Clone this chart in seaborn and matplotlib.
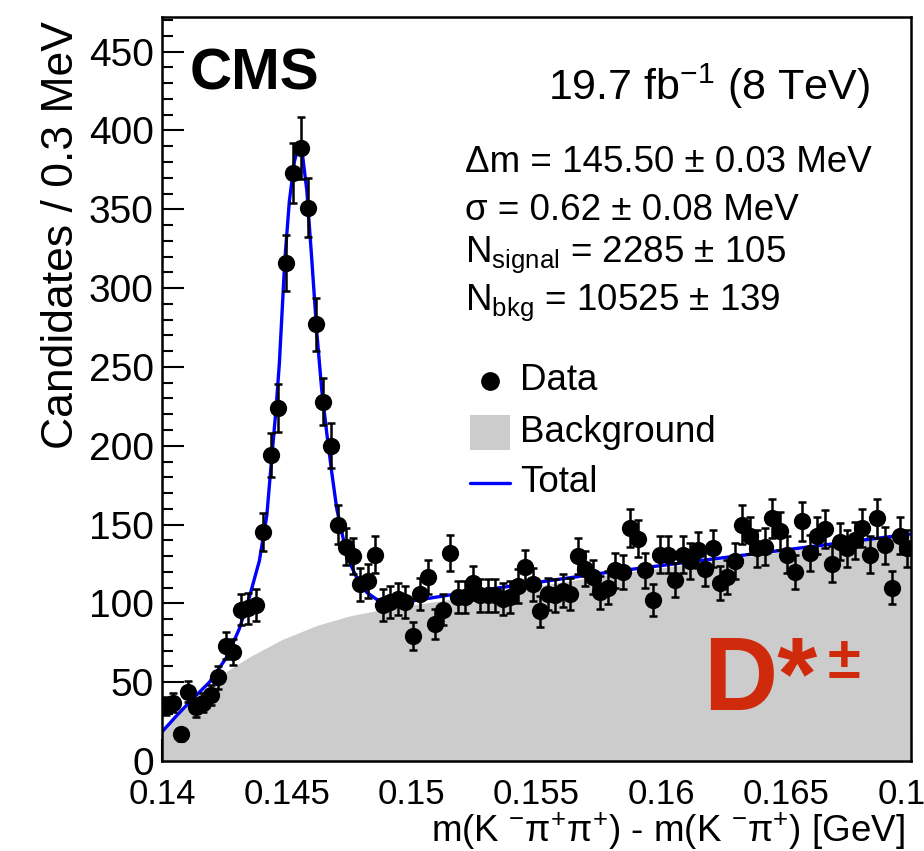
import numpy as np
import pandas as pd
import matplotlib
matplotlib.use("Agg")
import matplotlib.pyplot as plt
from matplotlib import font_manager
from matplotlib.lines import Line2D
from matplotlib.patches import Rectangle
import seaborn as sns

# ---------------- data ----------------
bin_width = 0.0003
x_min, x_max = 0.140, 0.170
counts = [35, 37, 17, 44, 34, 37, 42, 53, 73, 69,
          96, 97, 99, 145, 194, 224, 316, 373, 389, 351,
          277, 228, 200, 150, 136, 130, 112, 114, 131, 99,
          101, 103, 101, 79, 106, 117, 87, 96, 132, 104,
          104, 113, 105, 105, 105, 103, 104, 111, 123, 112,
          95, 106, 105, 108, 106, 130, 122, 117, 107, 110,
          121, 120, 148, 141, 121, 102, 131, 131, 115, 131,
          127, 134, 122, 135, 113, 117, 127, 150, 143, 135,
          136, 154, 146, 131, 120, 152, 132, 143, 147, 125,
          139, 135, 140, 148, 131, 154, 137, 110, 143, 135]

total_x = [0.1400, 0.1406, 0.1412, 0.1419, 0.1426, 0.1431, 0.1435, 0.1439,
           0.1442, 0.14435, 0.14456, 0.1447, 0.14492, 0.1451, 0.1453, 0.14545,
           0.1456, 0.1458, 0.1460, 0.1462, 0.1464, 0.1466, 0.1468, 0.1470,
           0.1473, 0.1476, 0.1479, 0.1482, 0.1486, 0.1490, 0.1495, 0.1500,
           0.1510, 0.1520, 0.1540, 0.1560, 0.1580, 0.1600, 0.1620, 0.1640,
           0.1660, 0.1680, 0.1700]
total_y = [18.5, 29, 39, 50, 66, 84, 104, 127,
           156, 184, 222, 252, 318, 355, 380, 390,
           388, 362, 318, 272, 235, 208, 183, 160,
           138, 123, 113, 107, 102.5, 100.5, 100.5, 101.5,
           104, 106.5, 111, 115.5, 120, 124, 128, 132,
           136, 140, 144]

bkg_x = [0.1400, 0.1405, 0.1410, 0.1415, 0.1420, 0.1426, 0.1435, 0.1448,
         0.1462, 0.1475, 0.1488, 0.1500, 0.1520, 0.1540, 0.1560, 0.1580,
         0.1600, 0.1620, 0.1640, 0.1660, 0.1680, 0.1700]
bkg_y = [18.5, 28, 36, 43, 49, 57, 66, 77,
         86, 92, 96, 99, 103.5, 108.5, 113.5, 118.5,
         122.5, 127, 131, 135, 139.5, 143.5]

x_ticks = [0.14, 0.145, 0.15, 0.155, 0.16, 0.165, 0.17]
x_tick_labels = ["0.14", "0.145", "0.15", "0.155", "0.16", "0.165", "0.17"]
y_ticks = [0, 50, 100, 150, 200, 250, 300, 350, 400, 450]

stats_lines = ["Δm = 145.50 ± 0.03 MeV",
               "σ = 0.62 ± 0.08 MeV",
               r"N$_{\mathrm{signal}}$ = 2285 ± 105",
               r"N$_{\mathrm{bkg}}$ = 10525 ± 139"]
legend_labels = ["Data", "Background", "Total"]

# ---------------- style ----------------
sns.set_theme(style="ticks")
avail = {f.name for f in font_manager.fontManager.ttflist}
main_font = "Liberation Sans" if "Liberation Sans" in avail else "DejaVu Sans"
narrow_font = "Liberation Sans Narrow" if "Liberation Sans Narrow" in avail else main_font
plt.rcParams["font.family"] = [main_font, "DejaVu Sans"]
plt.rcParams["mathtext.fontset"] = "custom"
plt.rcParams["mathtext.rm"] = main_font
plt.rcParams["mathtext.it"] = main_font + ":italic"
plt.rcParams["mathtext.bf"] = main_font + ":bold"
plt.rcParams["text.color"] = "black"
plt.rcParams["axes.labelcolor"] = "black"
plt.rcParams["xtick.color"] = "black"
plt.rcParams["ytick.color"] = "black"
plt.rcParams["axes.edgecolor"] = "black"

W, H = 924, 851
fig = plt.figure(figsize=(W / 100, H / 100), dpi=100)
fig.patch.set_facecolor("white")

def fx(px):
    return px / W

def fy(py):
    return 1 - py / H

ax = fig.add_axes([fx(162), fy(761), (911 - 162) / W, (761 - 17) / H])
ax.set_facecolor("white")

# data frame of bins
centers = x_min + bin_width / 2 + bin_width * np.arange(len(counts))
df = pd.DataFrame({"x": centers, "n": counts})
df["err"] = np.sqrt(df["n"])

# background fill
ax.fill_between(bkg_x, 0, bkg_y, color="#cccccc", linewidth=0, zorder=1)

# total line
sns.lineplot(x=total_x, y=total_y, ax=ax, color="#0000ff", linewidth=2.4,
             zorder=2, sort=False)

# error bars + points
ax.errorbar(df["x"], df["n"], yerr=df["err"], fmt="none", ecolor="black",
            elinewidth=1.8, capsize=3.2, capthick=1.8, zorder=3)
sns.scatterplot(data=df, x="x", y="n", ax=ax, color="black", s=155,
                edgecolor="black", linewidth=0, zorder=4)

# axes
ax.set_xlim(x_min, x_max)
ax.set_ylim(0, 472)
ax.set_xlabel("")
ax.set_ylabel("")
ax.set_xticks(x_ticks)
ax.set_xticklabels(x_tick_labels)
ax.set_yticks(y_ticks)
ax.set_xticks(np.arange(0.140, 0.1701, 0.001), minor=True)
ax.set_yticks(np.arange(0, 471, 10), minor=True)
ax.tick_params(axis="both", which="major", direction="in", length=16,
               width=1.5, color="black")
ax.tick_params(axis="both", which="minor", direction="in", length=8,
               width=1.5, color="black")
ax.tick_params(axis="x", which="both", top=False, bottom=True, pad=12)
ax.tick_params(axis="y", which="both", right=False, left=True, pad=6)
for lab in ax.get_xticklabels():
    lab.set_fontsize(25)
    lab.set_color("black")
    lab.set_family([narrow_font, "DejaVu Sans"])
for lab in ax.get_yticklabels():
    lab.set_fontsize(28)
    lab.set_color("black")
for sp in ax.spines.values():
    sp.set_visible(True)
    sp.set_linewidth(1.8)
    sp.set_color("black")
    sp.set_zorder(6)
ax.grid(False)

# axis titles
fig.text(fx(62), fy(235), "Candidates / 0.3 MeV", rotation=90, ha="center",
         va="center", fontsize=32, family=[narrow_font, "DejaVu Sans"])
fig.text(fx(905), fy(831), r"m(K $^{-}$π$^{+}$π$^{+}$) - m(K $^{-}$π$^{+}$) [GeV]",
         ha="right", va="center", fontsize=26.5, family=[narrow_font, "DejaVu Sans"])

# CMS and luminosity
fig.text(fx(190), fy(75), "CMS", ha="left", va="center", fontsize=42,
         fontweight="bold")
fig.text(fx(870), fy(100), r"19.7 fb$^{-1}$ (8 TeV)", ha="right",
         va="baseline", fontsize=31)

# fit results
for txt, base in zip(stats_lines, [172, 220, 262, 310]):
    fig.text(fx(465), fy(base), txt, ha="left", va="baseline", fontsize=26.5)

# legend (manual)
fig.add_artist(Line2D([fx(490)], [fy(381)], marker="o", color="black",
                      markersize=12.5, linestyle="none"))
fig.add_artist(Rectangle((fx(470), fy(450)), fx(510) - fx(470),
                         fy(415) - fy(450), transform=fig.transFigure,
                         facecolor="#cccccc", edgecolor="none"))
fig.add_artist(Line2D([fx(470), fx(510)], [fy(483), fy(483)],
                      color="#0000ff", linewidth=2.4))
for lab, yy in zip(legend_labels, [381, 432, 483]):
    fig.text(fx(520), fy(yy), lab, ha="left", va="center", fontsize=26.5)

# D*± label
red = "#d02a0c"
fig.text(fx(703), fy(710), "D*", ha="left", va="baseline", fontsize=74,
         fontweight="bold", color=red)
fig.text(fx(828), fy(678), "±", ha="left", va="baseline", fontsize=43,
         fontweight="bold", color=red)

fig.savefig("out.png", dpi=100)
